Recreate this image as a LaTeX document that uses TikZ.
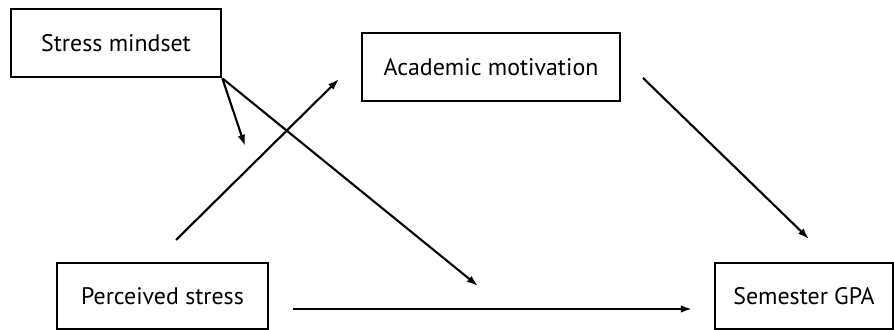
\documentclass[tikz,border=0pt]{standalone}
\usepackage{fontspec}
\setmainfont{PT Sans}
\usepackage{tikz}
\usetikzlibrary{arrows.meta,positioning,calc}

\begin{document}
\begin{tikzpicture}[x=0.25mm, y=-0.25mm,
    box/.style={draw, line width=1.9pt, inner sep=0pt, font=\fontsize{17}{20}\selectfont},
    path/.style={line width=1.5pt, -{Latex[length=2.8mm, width=1.9mm]}}]
    \useasboundingbox (0,0) rectangle (894,330);

    % Variables
    \node[box, minimum width=52.5mm, minimum height=17mm] (mindset) at (116,43) {Stress mindset};
    \node[box, minimum width=64.5mm, minimum height=17mm] (motivation) at (491,67) {Academic motivation};
    \node[box, minimum width=52.75mm, minimum height=16.5mm] (stress) at (162.5,296) {Perceived stress};
    \node[box, minimum width=44.5mm, minimum height=16.5mm] (gpa) at (804,296) {Semester GPA};

    % Free ends of the paths
    \coordinate (stress-up) at (176,240);
    \coordinate (motivation-in) at (339,79);
    \coordinate (motivation-out) at (643,78);
    \coordinate (gpa-in) at (809,239);
    \coordinate (stress-right) at (293,309);
    \coordinate (gpa-left) at (692,309);
    \coordinate (mod-a) at (245,146);
    \coordinate (mod-c) at (478,286);

    % Mediation paths
    \draw[path] (stress-up) -- (motivation-in);
    \draw[path] (motivation-out) -- (gpa-in);
    \draw[path] (stress-right) -- (gpa-left);

    % Moderation paths
    \draw[path] (mindset.south east) -- (mod-a);
    \draw[path] (mindset.south east) -- (mod-c);
\end{tikzpicture}
\end{document}
